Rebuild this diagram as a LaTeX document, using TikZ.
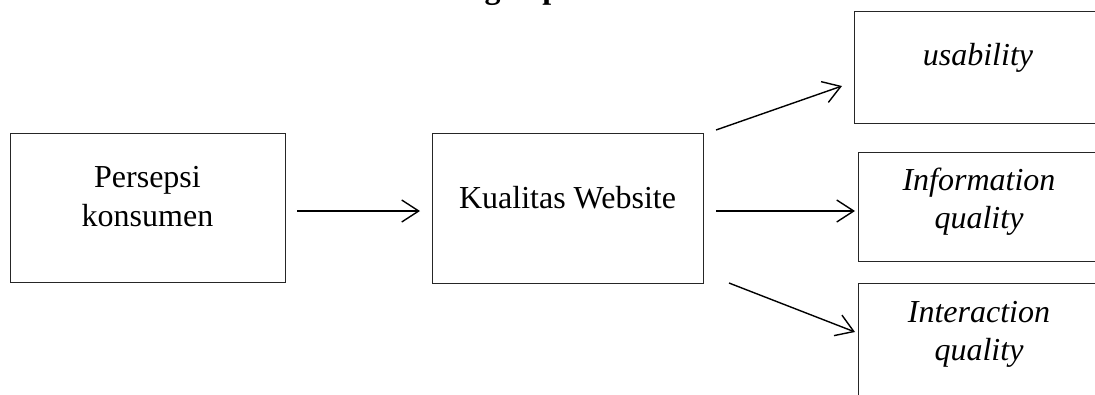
\documentclass[tikz,border=0pt]{standalone}
\usepackage{fontspec}
\setmainfont{Liberation Serif}
\usetikzlibrary{arrows.meta}
\begin{document}
\begin{tikzpicture}[x=1pt,y=-1pt,
  box/.style={draw=black!85, line width=0.9pt, rectangle, inner sep=0pt, outer sep=0pt},
  txt/.style={anchor=base, inner sep=0pt, font=\fontsize{32}{38}\selectfont},
  arr/.style={line width=1.4pt, -{Straight Barb[length=17pt,width=22pt,line width=1.4pt]}}]
\useasboundingbox (0,0) rectangle (1095,394);
% title (cut off at top)
\node[txt, font=\fontsize{32}{38}\selectfont\bfseries] (title) at (541,-2) {Kerangka pemikiran};
% boxes
\node[box, minimum width=275pt, minimum height=149pt] (A) at (147.5,207.5) {};
\node[box, minimum width=271pt, minimum height=150pt] (B) at (567.5,208) {};
\node[box, minimum width=248pt, minimum height=112pt] (C) at (978,67) {};
\node[box, minimum width=242pt, minimum height=109pt] (D) at (979,206.5) {};
\node[box, minimum width=242pt, minimum height=115pt] (E) at (979,340.5) {};
% texts
\node[txt] (tA1) at (147.5,187) {Persepsi};
\node[txt] (tA2) at (147.5,226) {konsumen};
\node[txt] (tB) at (567.5,208) {Kualitas Website};
\node[txt] (tC) at (978,65) {\itshape usability};
\node[txt] (tD1) at (979,190) {\itshape Information};
\node[txt] (tD2) at (979,228) {\itshape quality};
\node[txt] (tE1) at (979,322) {\itshape Interaction};
\node[txt] (tE2) at (979,360) {\itshape quality};
% connector end points
\coordinate (ab1) at (297,211);
\coordinate (ab2) at (420,211);
\coordinate (bc1) at (716,130);
\coordinate (bc2) at (842,86);
\coordinate (bd1) at (716,211);
\coordinate (bd2) at (855,211);
\coordinate (be1) at (729,283);
\coordinate (be2) at (855,332);
% connectors
\draw[arr] (ab1) -- (ab2);
\draw[arr] (bc1) -- (bc2);
\draw[arr] (bd1) -- (bd2);
\draw[arr] (be1) -- (be2);
\end{tikzpicture}
\end{document}
